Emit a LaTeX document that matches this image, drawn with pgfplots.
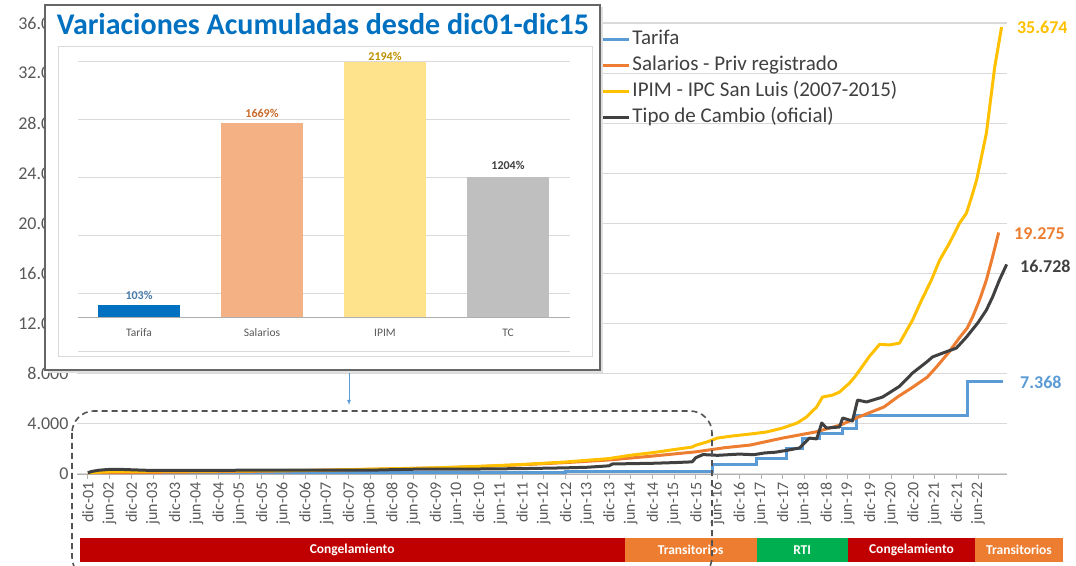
\documentclass[border=0pt]{standalone}
\usepackage{pgfplots}
\pgfplotsset{compat=1.18}
\usepackage{pgfplotstable}
\usepackage{fontspec}
\setmainfont{Carlito}

\definecolor{tarifa}{HTML}{5B9BD5}
\definecolor{salarios}{HTML}{ED7D31}
\definecolor{ipim}{HTML}{FFC000}
\definecolor{tc}{HTML}{404040}
\definecolor{gridgray}{HTML}{D9D9D9}
\definecolor{labelgray}{HTML}{595959}
\definecolor{cong}{HTML}{C00000}
\definecolor{trans}{HTML}{ED7D31}
\definecolor{rti}{HTML}{00B050}
\definecolor{titleblue}{HTML}{0070C0}

% month index: 0 = dic-01
\pgfplotstableread{
m v
0 100
84 130
132 160
150 203
172.7 720
184.8 1277
193.1 2000
197.5 2870
202.2 3270
208.6 3670
212.4 4630
243.1 7368
252.8 7368
}\tarifa

\pgfplotstableread{
m v
0 100
6 105
12 118
24 150
36 180
48 225
60 275
72 335
84 410
96 480
108 590
120 740
132 910
144 1120
156 1430
162 1600
168 1769
176 2100
183 2310
192 2870
201 3350
208 3910
213 4550
220 5350
224 6200
228 6940
232 7740
234.5 8540
238 9740
241 10930
243 11650
244.5 12530
246.4 13880
248.3 15480
250 17320
251.7 19275
}\salarios

\pgfplotstableread{
m v
0 100
3 150
6 185
12 218
24 222
36 240
48 265
60 290
66 310
72 350
84 420
96 490
108 610
120 760
132 960
144 1230
150 1500
156 1700
162 1950
167 2150
168 2294
171 2550
174 2870
178 3030
183 3190
187.5 3350
192 3670
196 4070
198.6 4550
201.4 5350
203 6140
205.8 6300
207.7 6540
210.5 7260
211.9 7740
213.3 8300
216 9400
218.8 10350
221.5 10300
224.3 10450
227.9 12290
230.4 13880
233.1 15480
235.4 17080
238.1 18430
240.9 20030
242.8 20830
244.2 22100
245.6 23460
248.3 27200
250.6 32480
252.5 35674
}\ipim

\pgfplotstableread{
m v
0 100
1 200
3 300
6 370
9 370
12 337
18 280
24 293
36 297
48 303
60 306
72 315
78 303
84 345
90 380
108 398
120 430
132 491
138 538
144 652
145 800
156 855
162 909
167 970
168 1304
170 1550
174 1490
180 1590
184 1540
187 1680
190 1740
193 1880
196.7 2080
199.4 2870
201.4 2800
202.8 4070
204.1 3670
207.7 3750
208.6 4470
211.3 4230
212.7 5900
215.2 5750
219.6 6140
224.3 7000
227.9 8060
231.8 8940
233.4 9340
236.2 9650
240 10050
242.8 10930
245.9 12050
248.3 13090
250 14120
251.9 15480
253.9 16728
}\tc

\begin{document}
\begin{tikzpicture}[x=1pt,y=1pt]
\path[use as bounding box] (0,0) rectangle (1076,565);

% main chart
\begin{axis}[
    at={(77pt,91pt)}, anchor=south west,
    scale only axis, width=930pt, height=451pt,
    xmin=-3, xmax=254, ymin=0, ymax=36000,
    clip=false,
    scaled y ticks=false, scaled x ticks=false,
    axis x line*=bottom, axis y line*=left,
    y axis line style={draw=none},
    x axis line style={draw=gray!60, line width=1pt},
    ytick={0,4000,...,36000},
    yticklabels={0,4.000,8.000,12.000,16.000,20.000,24.000,28.000,32.000,36.000},
    ytick style={draw=none},
    ymajorgrids, grid style={draw=gridgray, line width=1.2pt},
    xtick={0,6,...,246},
    xticklabels={dic-01,jun-02,dic-02,jun-03,dic-03,jun-04,dic-04,jun-05,dic-05,jun-06,dic-06,jun-07,dic-07,jun-08,dic-08,jun-09,dic-09,jun-10,dic-10,jun-11,dic-11,jun-12,dic-12,jun-13,dic-13,jun-14,dic-14,jun-15,dic-15,jun-16,dic-16,jun-17,dic-17,jun-18,dic-18,jun-19,dic-19,jun-20,dic-20,jun-21,dic-21,jun-22},
    xtick style={draw=gray!60, line width=0.8pt},
    tick align=outside, major tick length=5pt,
    xticklabel style={rotate=90, anchor=east, font=\fontsize{16}{16}\selectfont, text=labelgray},
    yticklabel style={font=\fontsize{18}{18}\selectfont, text=labelgray},
    legend style={at={(rel axis cs:0.553,0.99)}, anchor=north west, draw=none, fill=none,
        font=\fontsize{21}{21}\selectfont, text=tc, row sep=2pt, inner sep=0pt,
        nodes={inner sep=2pt, text height=15pt, text depth=5pt}},
    legend cell align=left,
    legend image code/.code={\draw[#1, line width=3pt] (0pt,0pt) -- (36pt,0pt);},
]
\addplot[const plot, tarifa, line width=3pt] table[x=m, y=v] {\tarifa};
\addlegendentry{Tarifa}
\addplot[salarios, line width=3pt, line join=round] table[x=m, y=v] {\salarios};
\addlegendentry{Salarios - Priv registrado}
\addplot[ipim, line width=3pt, line join=round] table[x=m, y=v] {\ipim};
\addlegendentry{IPIM - IPC San Luis (2007-2015)}
\addplot[tc, line width=3pt, line join=round] table[x=m, y=v] {\tc};
\addlegendentry{Tipo de Cambio (oficial)}

\node[anchor=west, text=ipim, font=\bfseries\fontsize{18}{18}\selectfont, xshift=12pt] at (axis cs:252.5,35674) {35.674};
\node[anchor=west, text=salarios, font=\bfseries\fontsize{18}{18}\selectfont, xshift=12pt] at (axis cs:251.7,19200) {19.275};
\node[anchor=west, text=tc, font=\bfseries\fontsize{18}{18}\selectfont, xshift=10pt] at (axis cs:253.9,16600) {16.728};
\node[anchor=west, text=tarifa, font=\bfseries\fontsize{18}{18}\selectfont, xshift=14pt] at (axis cs:252.8,7300) {7.368};
\end{axis}

% regime band
\begin{axis}[
    at={(77pt,3pt)}, anchor=south west,
    scale only axis, width=988.3pt, height=24pt,
    xmin=-3, xmax=270, ymin=0, ymax=1,
    hide axis, clip=false,
]
\addplot[draw=none, fill=cong] coordinates {(-2.2,1) (148.3,1)} \closedcycle;
\addplot[draw=none, fill=trans] coordinates {(148.3,1) (184.8,1)} \closedcycle;
\addplot[draw=none, fill=rti] coordinates {(184.8,1) (209.9,1)} \closedcycle;
\addplot[draw=none, fill=cong] coordinates {(209.9,1) (245,1)} \closedcycle;
\addplot[draw=none, fill=trans] coordinates {(245,1) (269.3,1)} \closedcycle;
\tikzset{band/.style={text=white, font=\bfseries\fontsize{13.5}{13.5}\selectfont}}
\node[band] at (axis cs:73,0.5) {Congelamiento};
\node[band] at (axis cs:166.5,0.5) {Transitorios};
\node[band] at (axis cs:197.3,0.5) {RTI};
\node[band] at (axis cs:227.5,0.5) {Congelamiento};
\node[band] at (axis cs:257.2,0.5) {Transitorios};
\end{axis}

% dashed frame of the zoomed period
\draw[tc!90, dashed, dash pattern=on 6pt off 4pt, line width=1.6pt, rounded corners=22pt]
    (72,154) rectangle (712,-14);
\draw[tarifa, line width=0.8pt, -latex] (349,195) -- (349,160);

% inset
\fill[black!12] (48,192) rectangle (603,558);
\draw[gray!80!black, line width=1.4pt, fill=white] (45,195) rectangle (600,560);
\draw[gridgray, line width=1pt] (58,208) rectangle (592,518);
\node[text=titleblue, font=\bfseries\fontsize{30}{30}\selectfont] at (323,541) {Variaciones Acumuladas desde dic01-dic15};

\begin{axis}[
    at={(77.5pt,213pt)}, anchor=south west,
    scale only axis, width=492pt, height=290.5pt,
    xmin=-0.5, xmax=3.5, ymin=-300, ymax=2200,
    axis line style={draw=none},
    ytick={-300,200,...,2200}, yticklabels={},
    extra y ticks={0}, extra y tick labels={},
    extra y tick style={grid style={draw=gridgray!80!black, line width=1pt}},
    xtick=\empty, tick style={draw=none},
    ymajorgrids, grid style={draw=gridgray, line width=1pt},
    ybar, bar width=82pt, bar shift=0pt,
    clip=false,
    nodes near coords style={font=\bfseries\fontsize{12}{12}\selectfont},
]
\addplot[fill=titleblue, draw=none, nodes near coords={103\%},
    every node near coord/.append style={text=tarifa!80!black, yshift=2pt}] coordinates {(0,103)};
\addplot[fill=salarios!60, draw=none, nodes near coords={1669\%},
    every node near coord/.append style={text=salarios!85!black, yshift=2pt}] coordinates {(1,1669)};
\addplot[fill=ipim!45, draw=none, nodes near coords={2194\%},
    every node near coord/.append style={text=ipim!75!black, yshift=-2pt}] coordinates {(2,2194)};
\addplot[fill=black!25, draw=none, nodes near coords={1204\%},
    every node near coord/.append style={text=tc, yshift=4pt}] coordinates {(3,1204)};
\tikzset{cat/.style={text=labelgray, font=\fontsize{11.5}{11.5}\selectfont}}
\node[cat] at (axis cs:0,-135) {Tarifa};
\node[cat] at (axis cs:1,-135) {Salarios};
\node[cat] at (axis cs:2,-135) {IPIM};
\node[cat] at (axis cs:3,-135) {TC};
\end{axis}
\end{tikzpicture}
\end{document}
